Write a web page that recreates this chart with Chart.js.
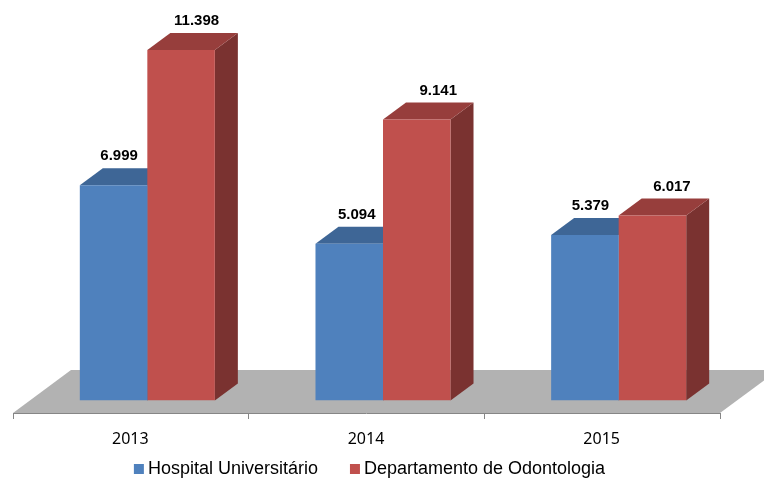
<!DOCTYPE html>
<html><head><meta charset="utf-8">
<style>html,body{margin:0;padding:0;background:#fff}#w{width:764px;height:479px}canvas{display:block}</style>
<script src="https://cdn.jsdelivr.net/npm/chart.js@4"></script></head>
<body><div id="w"><canvas id="c" width="764" height="479"></canvas></div>
<script>
const categories = ['2013', '2014', '2015'];
const hospital = [6999, 5094, 5379];
const odontologia = [11398, 9141, 6017];
const seriesNames = ['Hospital Universitário', 'Departamento de Odontologia'];
const valueLabels = [['6.999', '5.094', '5.379'], ['11.398', '9.141', '6.017']];

const DX = 23, DY = 17;
const shades = [{top:'#3E6696', side:'#2F4E74'}, {top:'#973E3C', side:'#7A3230'}];
const labelDx = [[5.5, 7.5, 5.5], [15.5, 21.5, 19.5]];

function poly(ctx, pts, fill){
  ctx.beginPath(); pts.forEach((p,i)=> i?ctx.lineTo(p[0],p[1]):ctx.moveTo(p[0],p[1]));
  ctx.closePath(); ctx.fillStyle = fill; ctx.fill();
}
const box3d = {
  id:'box3d',
  beforeLayout(chart){
    const l = chart.legend;
    if(!l._wrapped){
      const f = l.fit;
      l.fit = function(){ f.call(this); this.height = 0; };
      l._wrapped = true;
    }
  },
  afterLayout(chart){
    const l = chart.legend;
    l.left = 0; l.right = 744; l.width = 744;
    l.top = 423; l.bottom = 479; l.height = 56;
  },
  beforeDatasetsDraw(chart){
    const {ctx, scales:{x}, chartArea:a} = chart;
    const b = a.bottom;
    ctx.save();
    // floor
    const fl = x.left - 16.5, fr = x.right - 16.5, fy = b + 12.5, by = b - 30.5;
    poly(ctx, [[fl,fy],[fl+58,by],[fr+58,by],[fr,fy]], '#B2B2B2');
    // axis line and ticks
    ctx.strokeStyle = '#868686'; ctx.lineWidth = 1;
    ctx.beginPath(); ctx.moveTo(fl,fy+.5); ctx.lineTo(fr,fy+.5);
    const step = (fr-fl)/categories.length;
    for(let i=0;i<=categories.length;i++){ const tx=Math.floor(fl+step*i)+.5; ctx.moveTo(tx,fy); ctx.lineTo(tx,fy+6); }
    ctx.stroke();
    // bar sides and tops
    chart.data.datasets.forEach((d,di)=>{
      chart.getDatasetMeta(di).data.forEach(el=>{
        const p = el.getProps(['x','y','base','width'], true);
        const L=p.x-p.width/2, R=p.x+p.width/2, T=p.y, B=p.base;
        poly(ctx, [[R,T],[R+DX,T-DY],[R+DX,B-DY],[R,B]], shades[di].side);
        poly(ctx, [[L,T],[L+DX,T-DY],[R+DX,T-DY],[R,T]], shades[di].top);
      });
    });
    ctx.restore();
  },
  afterDatasetsDraw(chart){
    const {ctx} = chart;
    ctx.save();
    ctx.font = 'bold 15px "Liberation Sans"';
    ctx.fillStyle = '#000'; ctx.textAlign='center'; ctx.textBaseline='middle';
    chart.data.datasets.forEach((d,di)=>{
      chart.getDatasetMeta(di).data.forEach((el,i)=>{
        const p = el.getProps(['x','y'], true);
        ctx.fillText(valueLabels[di][i], p.x+labelDx[di][i], p.y-DY-12);
      });
    });
    ctx.restore();
  }
};
new Chart(document.getElementById('c'), {
  type:'bar',
  data:{labels:categories, datasets:[
    {label:seriesNames[0], data:hospital, backgroundColor:'#4F81BD', pointStyle:'rect', borderWidth:0},
    {label:seriesNames[1], data:odontologia, backgroundColor:'#C0504D', pointStyle:'rect', borderWidth:0}
  ]},
  options:{
    responsive:false, animation:false, devicePixelRatio:1,
    layout:{padding:{left:29.5,right:27.5,top:31.5,bottom:0}},
    datasets:{bar:{categoryPercentage:0.573,barPercentage:1}},
    plugins:{
      title:{display:false}, tooltip:{enabled:false},
      legend:{position:'bottom', labels:{
        usePointStyle:true, boxWidth:0.01, boxHeight:10, padding:37,
        font:{family:'"Liberation Sans"',size:18}, color:'#000'
      }}
    },
    scales:{
      x:{grid:{display:false}, border:{display:false},
         ticks:{font:{family:'"Noto Sans"',size:16}, color:'#000', labelOffset:-17, padding:21, maxRotation:0},
         afterFit(s){s.height=78.5;}},
      y:{display:false, min:0, max:12000}
    }
  },
  plugins:[box3d]
});
</script></body></html>
